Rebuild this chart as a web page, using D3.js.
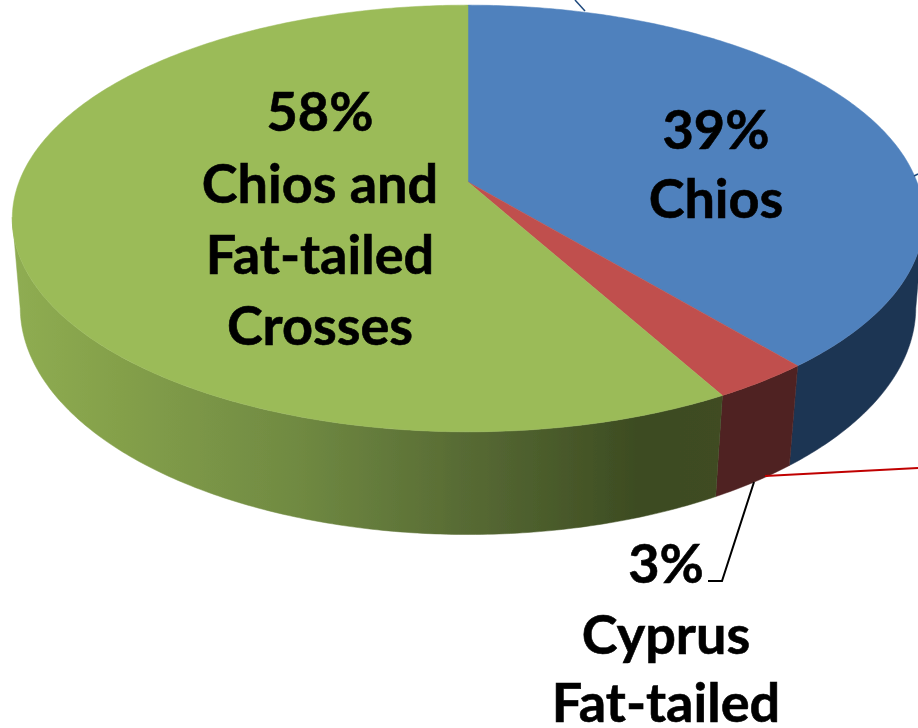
<!DOCTYPE html>
<html>
<head>
<meta charset="utf-8">
<script src="https://cdnjs.cloudflare.com/ajax/libs/d3/7.8.5/d3.min.js"></script>
<style>
html,body{margin:0;padding:0;background:#fff;overflow:hidden}
svg{display:block}
text{font-family:Lato,"Open Sans",sans-serif;font-weight:700;fill:#000;stroke:#000;stroke-width:0.6;text-anchor:middle}
</style>
</head>
<body>
<svg id="chart" width="918" height="728"></svg>
<script>
const categories = ["Chios", "Cyprus Fat-tailed", "Chios and Fat-tailed Crosses"];
const values = [39, 3, 58];
const topColors = ["#4F81BD", "#C0504D", "#9BBB59"];
const wallColors = ["#1F3552", "#4F2120", "url(#greenWall)"];
const labelLines = [["39%", "Chios"], ["3%", "Cyprus", "Fat-tailed"], ["58%", "Chios and", "Fat-tailed", "Crosses"]];
const labelX = [716, 666, 320];
const labelBaselines = [[149, 218], [583, 654, 722], [131, 203, 274, 345]];
const greenStops = [[0, "#8FAD52"], [0.15, "#84A04A"], [0.4, "#708A42"], [0.65, "#566933"], [0.88, "#3D4C22"], [1, "#3F4B22"]];
const leaders = [
  {color: "#000", width: 2, pts: [[754, 482], [722, 581], [708, 581]]},
  {color: "#C00000", width: 2, pts: [[765, 476], [918, 468]]},
  {color: "#1F497D", width: 1.5, pts: [[575, 0], [585, 11]]},
  {color: "#1F497D", width: 1.5, pts: [[914, 176], [918, 174]]}
];

const cx = 468;
const rimTop = {R: 449, a: 176, b: 182, c: -0.171};
const rimBottom = {R: 442, a: 178, b: 271, c: -0.16};
// The wall is only visible between the rim's two side tangents.
const wallFrom = 99.5 * Math.PI / 180, wallTo = 260.5 * Math.PI / 180;

function project(rim, theta) {
  const u = Math.sin(theta), v = -Math.cos(theta), d = 1 + rim.c * v;
  return [cx + rim.R * u / d, (rim.a * v + rim.b) / d];
}
function arcPoints(rim, t0, t1) {
  const n = Math.max(2, Math.ceil((t1 - t0) * 90));
  return d3.range(n + 1).map(i => project(rim, t0 + (t1 - t0) * i / n));
}

const svg = d3.select("#chart");
const grad = svg.append("defs").append("linearGradient")
  .attr("id", "greenWall").attr("gradientUnits", "userSpaceOnUse")
  .attr("x1", 12).attr("x2", 722).attr("y1", 0).attr("y2", 0);
grad.selectAll("stop").data(greenStops).join("stop")
  .attr("offset", d => d[0]).attr("stop-color", d => d[1]);
svg.select("defs").append("filter").attr("id", "soft")
  .attr("x", "-5%").attr("y", "-5%").attr("width", "110%").attr("height", "110%")
  .append("feGaussianBlur").attr("stdDeviation", 0.6);

const root = svg.append("g").attr("filter", "url(#soft)");
const slices = d3.pie().sort(null).value(d => d)(values);
const line = d3.line();

function wallPath(s) {
  const t0 = Math.max(s.startAngle, wallFrom), t1 = Math.min(s.endAngle, wallTo);
  return line(arcPoints(rimTop, t0, t1).concat(arcPoints(rimBottom, t0, t1).reverse())) + "Z";
}

root.append("g").selectAll("path").data(slices).join("path")
  .attr("d", wallPath)
  .attr("fill", (s, i) => wallColors[i])
  .attr("stroke", (s, i) => wallColors[i]).attr("stroke-width", 0.5);

root.append("g").selectAll("path").data(slices).join("path")
  .attr("d", s => line([[cx, rimTop.b]].concat(arcPoints(rimTop, s.startAngle, s.endAngle))) + "Z")
  .attr("fill", (s, i) => topColors[i])
  .attr("stroke", (s, i) => topColors[i]).attr("stroke-width", 0.5);

root.append("g").selectAll("path").data(leaders).join("path")
  .attr("d", d => line(d.pts)).attr("fill", "none")
  .attr("stroke", d => d.color).attr("stroke-width", d => d.width);

const labels = root.append("g").selectAll("g").data(labelLines).join("g");
labels.each(function(lines, i) {
  d3.select(this).selectAll("text").data(lines).join("text")
    .attr("x", labelX[i])
    .attr("y", (d, j) => labelBaselines[i][j])
    .attr("font-size", 54)
    .text(d => d);
});
</script>
</body>
</html>
